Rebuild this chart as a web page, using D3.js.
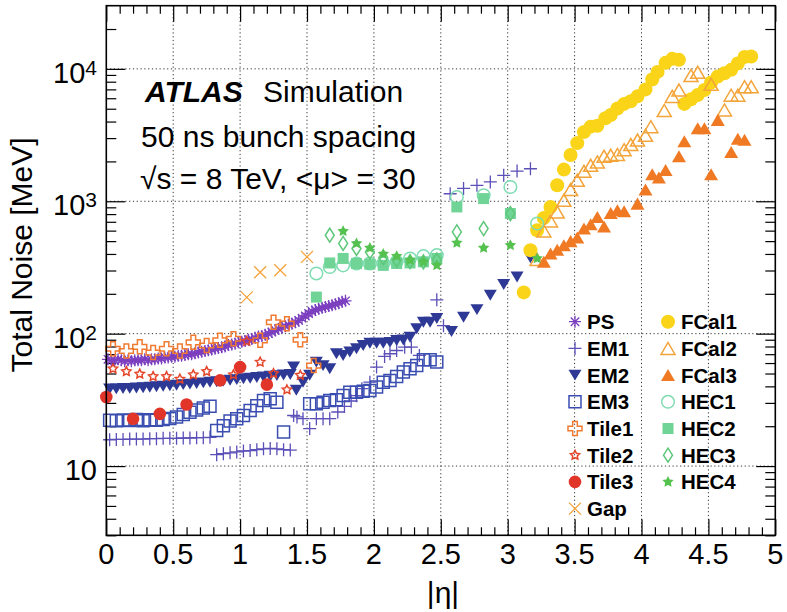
<!DOCTYPE html>
<html><head><meta charset="utf-8">
<script src="https://cdn.jsdelivr.net/npm/d3@7"></script>
<style>
body{margin:0;background:#fff}
svg{display:block}
text{font-family:"Liberation Sans",Arial,Helvetica,sans-serif;fill:#000}
</style>
</head><body>
<svg id="chart" width="787" height="612"></svg>
<script>
// Total noise per calorimeter layer vs |eta|, [eta, noise in MeV]
const PS = [[0.0125,64],[0.0375,63],[0.0625,63],[0.0875,64],[0.1125,63],[0.1375,62],[0.1625,63],[0.1875,62],[0.2125,63],[0.2375,63],
  [0.2625,63],[0.2875,64],[0.3125,63],[0.3375,64],[0.3625,64],[0.3875,65],[0.4125,65],[0.4375,66],[0.4625,66],[0.4875,67],
  [0.5125,67],[0.5375,68],[0.5625,68],[0.5875,69],[0.6125,70],[0.6375,70],[0.6625,71],[0.6875,72],[0.7125,73],[0.7375,74],
  [0.7625,75],[0.7875,76],[0.8125,77],[0.8375,78],[0.8625,79],[0.8875,80],[0.9125,82],[0.9375,83],[0.9625,84],[0.9875,86],
  [1.0125,87],[1.0375,88],[1.0625,90],[1.0875,91],[1.1125,93],[1.1375,95],[1.1625,96],[1.1875,98],[1.2125,100],[1.2375,103],
  [1.2625,106],[1.2875,109],[1.3125,111],[1.3375,114],[1.3625,117],[1.3875,119],[1.4125,122],[1.4375,126],[1.4625,131],[1.4875,136],
  [1.5125,142],[1.5375,147],[1.5625,151],[1.5875,154],[1.6125,157],[1.6375,159],[1.6625,162],[1.6875,164],[1.7125,167],[1.7375,170],[1.7625,174],[1.7875,177]];

const EM1 = [[0.025,15.8],[0.075,15.9],[0.125,15.9],[0.175,16.0],[0.225,16.0],[0.275,16.0],[0.325,16.1],[0.375,16.1],[0.425,16.2],[0.475,16.2],
  [0.525,16.2],[0.575,16.3],[0.625,16.3],[0.675,16.4],[0.725,16.4],[0.775,16.5],
  [0.825,12.2],[0.875,12.4],[0.925,12.6],[0.975,12.8],[1.025,13.0],[1.075,13.1],[1.125,13.3],[1.175,13.5],[1.225,13.6],[1.275,13.5],[1.325,13.3],[1.375,13.2],
  [1.40,24.1],[1.425,23.5],[1.47,22.8],[1.52,19.2],[1.57,22.8],[1.62,22.8],[1.67,22.8],[1.73,25.6],[1.78,28.2],[1.83,31],[1.87,34],[1.91,38.4],
  [1.97,43.0],[2.02,55.9],[2.08,67.3],[2.12,70.5],[2.17,74.6],[2.23,79.1],[2.28,79.1],[2.34,68.5],[2.47,180],[2.52,115],
  [2.57,1140],[2.67,1250],[2.77,1320],[2.87,1400],[2.97,1570],[3.07,1690],[3.17,1760]];

const EM2 = [[0.025,38.2],[0.075,38.3],[0.125,38.5],[0.175,38.6],[0.225,38.9],[0.275,39.1],[0.325,39.4],[0.375,39.7],[0.425,40.1],[0.475,40.4],
  [0.525,40.8],[0.575,41.2],[0.625,41.6],[0.675,42.0],[0.725,42.5],[0.775,43.0],[0.825,43.4],[0.875,43.9],[0.925,44.5],[0.975,45.0],
  [1.025,45.6],[1.075,46.1],[1.125,46.6],[1.175,47.2],[1.225,47.7],[1.275,48.2],[1.325,48.7],[1.375,49.2],
  [1.40,56],[1.42,37.4],[1.47,43],[1.52,48.5],[1.57,61],[1.62,57.4],[1.67,54.3],[1.72,70.5],[1.77,68.5],[1.82,72.6],[1.87,76.9],[1.92,81.4],
  [1.97,84.7],[2.02,84.7],[2.07,84.7],[2.12,86],[2.17,88.7],[2.22,89.7],[2.27,94],[2.32,108.9],[2.37,122],[2.42,122],[2.47,130],
  [2.58,104],[2.67,133],[2.77,152],[2.87,195],[2.97,235],[3.07,268],[3.17,374]];

const EM3 = [[0.025,22.2],[0.075,22.0],[0.125,22.3],[0.175,22.1],[0.225,22.5],[0.275,22.0],[0.325,22.4],[0.375,22.2],[0.425,22.5],[0.475,22.9],
  [0.525,23.5],[0.575,24.5],[0.625,25.5],[0.675,26.5],[0.725,27.5],[0.775,28.3],
  [0.825,18.6],[0.875,20.2],[0.925,21.9],[0.975,22.8],[1.025,24.1],[1.075,26.3],[1.125,28.6],[1.175,31.3],[1.225,32.2],[1.275,30.4],[1.325,18.1],
  [1.52,29.6],[1.57,29.6],[1.62,30.4],[1.67,31.3],[1.72,31.7],[1.77,34.1],[1.82,36.1],[1.87,36.1],[1.92,36.8],[1.97,37.2],
  [2.02,39.5],[2.07,43],[2.12,44.3],[2.17,47.5],[2.22,51.3],[2.27,54.4],[2.32,57.5],[2.37,63.5],[2.42,63.5],[2.47,61]];

const TILE1 = [[0.05,76.9],[0.15,74],[0.25,79.5],[0.35,72],[0.45,76.9],[0.55,74],[0.65,86],[0.75,81.4],[0.85,89],[0.95,91.5],
  [1.15,89],[1.25,122],[1.35,119],[1.45,90],[1.55,57.4]];
const TILE2 = [[0.05,54.3],[0.15,51.8],[0.25,49.6],[0.35,47.5],[0.45,47.5],[0.55,45.4],[0.65,49],[0.75,51.9],[0.95,49],
  [1.05,87.7],[1.15,61],[1.25,50],[1.35,37.7],[1.45,48.5]];
const TILE3 = [[0.0,33.2],[0.2,22.8],[0.4,24.8],[0.6,29.2],[0.85,44.4],[1.0,55.9],[1.2,41.2]];
const GAP = [[1.05,188],[1.15,291],[1.3,301],[1.5,380]];

const FCAL1 = [[3.12,205],[3.17,427],[3.22,604],[3.27,748],[3.32,906],[3.37,1320],[3.42,1735],[3.47,2235],[3.52,2750],[3.57,3330],
  [3.62,3660],[3.67,3720],[3.73,4240],[3.77,4480],[3.82,5020],[3.87,5440],[3.92,5700],[3.97,6200],[4.03,7000],[4.08,8320],
  [4.12,9490],[4.18,11100],[4.23,11900],[4.28,11700],[4.32,5440],[4.37,5900],[4.42,6350],[4.47,6920],[4.52,7900],[4.57,8750],
  [4.62,9270],[4.67,9830],[4.72,11000],[4.77,12300],[4.82,12400]];
const FCAL2 = [[3.22,363],[3.27,597],[3.32,710],[3.37,830],[3.42,1017],[3.47,1225],[3.52,1440],[3.57,1685],[3.62,1870],[3.67,1980],
  [3.72,2185],[3.77,2225],[3.82,2260],[3.87,2450],[3.92,2680],[3.97,2900],[4.03,3150],[4.07,3660],[4.17,4850],[4.23,6200],
  [4.28,6920],[4.37,8910],[4.42,9420],[4.52,7650],[4.62,4900],[4.67,6330],[4.72,6330],[4.77,7330],[4.82,7330]];
const FCAL3 = [[3.27,349],[3.32,403],[3.37,431],[3.42,465],[3.47,500],[3.52,532],[3.57,622],[3.62,670],[3.67,761],[3.72,646],
  [3.77,816],[3.82,855],[3.87,840],[3.97,960],[4.03,1225],[4.08,1600],[4.13,1510],[4.18,1720],[4.28,2185],[4.32,2840],
  [4.42,3560],[4.47,3560],[4.52,1600],[4.57,4120],[4.67,2360],[4.72,2970],[4.77,2910]];

const HEC1 = [[1.57,285],[1.67,319],[1.77,328],[1.87,339],[1.97,339],[2.07,339],[2.17,349],[2.27,370],[2.37,385],[2.47,392],
  [2.62,1077],[2.82,1110],[3.02,1282],[3.22,679]];
const HEC2 = [[1.57,189],[1.67,342],[1.77,370],[1.87,339],[1.97,335],[2.07,328],[2.17,339],[2.27,342],[2.37,349],[2.47,370],
  [2.62,906],[2.82,1048],[3.02,808]];
const HEC3 = [[1.67,554],[1.77,480],[1.87,440],[1.97,414],[2.07,375],[2.17,360],[2.27,350],[2.37,348],[2.47,360],
  [2.62,587],[2.82,622],[3.02,808]];
const HEC4 = [[1.77,594],[1.87,480],[1.97,444],[2.07,400],[2.17,385],[2.27,359],[2.37,349],[2.47,328],
  [2.62,485],[2.82,444],[3.02,465],[3.22,370]];

const X_TICK_LABELS = ["0","0.5","1","1.5","2","2.5","3","3.5","4","4.5","5"];
const Y_TICK_LABELS = [{v:10,base:"10",exp:""},{v:100,base:"10",exp:"2"},{v:1000,base:"10",exp:"3"},{v:10000,base:"10",exp:"4"}];

// Marker style for every layer, in drawing / legend order
const SERIES = [
  {name:"PS",    data:PS,    color:"#7b3fbf", shape:"asterisk", size:6,   fill:false},
  {name:"EM1",   data:EM1,   color:"#5b4fb8", shape:"plus",     size:6.5, fill:false},
  {name:"EM2",   data:EM2,   color:"#2e3996", shape:"tridown",  size:13,  fill:true},
  {name:"EM3",   data:EM3,   color:"#3a4db0", shape:"square",   size:12,  fill:false},
  {name:"Tile1", data:TILE1, color:"#f07a30", shape:"cross",    size:14,  fill:false},
  {name:"Tile2", data:TILE2, color:"#e5462a", shape:"star",     size:4.8, fill:false},
  {name:"Tile3", data:TILE3, color:"#e2352a", shape:"circle",   size:6.3, fill:true},
  {name:"Gap",   data:GAP,   color:"#f5a33a", shape:"x",        size:6,   fill:false},
  {name:"FCal1", data:FCAL1, color:"#fad418", shape:"circle",   size:7,   fill:true},
  {name:"FCal2", data:FCAL2, color:"#f3a43a", shape:"triup",    size:14,  fill:false},
  {name:"FCal3", data:FCAL3, color:"#f07a24", shape:"triup",    size:14,  fill:true},
  {name:"HEC1",  data:HEC1,  color:"#7fdcb2", shape:"circle",   size:6.3, fill:false},
  {name:"HEC2",  data:HEC2,  color:"#6fd495", shape:"square",   size:11,  fill:true},
  {name:"HEC3",  data:HEC3,  color:"#5ec77a", shape:"diamond",  size:14,  fill:false},
  {name:"HEC4",  data:HEC4,  color:"#55c250", shape:"star",     size:6,   fill:true}
];

const svg = d3.select("#chart");
const frame = {left:106.3, right:775.3, top:5.7, bottom:535.3};
const x = d3.scaleLinear().domain([0,5]).range([frame.left, frame.right]);
const y = d3.scaleLog().domain([3,30000]).range([frame.bottom, frame.top]);

// marker outlines centred on the origin
function markerPath(shape, s){
  const f = v => v.toFixed(2);
  switch(shape){
    case "asterisk": { const a = s*0.707;
      return `M0,${f(-s)}V${f(s)}M${f(-s)},0H${f(s)}M${f(-a)},${f(-a)}L${f(a)},${f(a)}M${f(-a)},${f(a)}L${f(a)},${f(-a)}`; }
    case "plus": return `M0,${f(-s)}V${f(s)}M${f(-s)},0H${f(s)}`;
    case "x": return `M${f(-s)},${f(-s)}L${f(s)},${f(s)}M${f(-s)},${f(s)}L${f(s)},${f(-s)}`;
    case "tridown": { const w=s/2, h=s*0.42;
      return `M${f(-w)},${f(-h)}L${f(w)},${f(-h)}L0,${f(h)}Z`; }
    case "triup": { const w=s/2, h=s*0.43;
      return `M${f(-w)},${f(h)}L${f(w)},${f(h)}L0,${f(-h)}Z`; }
    case "square": { const h=s/2; return `M${f(-h)},${f(-h)}H${f(h)}V${f(h)}H${f(-h)}Z`; }
    case "diamond": { const w=s*0.32, h=s/2; return `M0,${f(-h)}L${f(w)},0L0,${f(h)}L${f(-w)},0Z`; }
    case "cross": { const R=s/2, t=R/3;
      return `M${f(-t)},${f(-R)}H${f(t)}V${f(-t)}H${f(R)}V${f(t)}H${f(t)}V${f(R)}H${f(-t)}V${f(t)}H${f(-R)}V${f(-t)}H${f(-t)}Z`; }
    case "star": { const pts=[]; for(let i=0;i<10;i++){ const r = i%2===0 ? s : s*0.5;
        const ang = -Math.PI/2 + i*Math.PI/5; pts.push([r*Math.cos(ang), r*Math.sin(ang)]); }
      return "M"+pts.map(p=>f(p[0])+","+f(p[1])).join("L")+"Z"; }
    case "circle": return `M${f(-s)},0A${f(s)},${f(s)} 0 1,0 ${f(s)},0A${f(s)},${f(s)} 0 1,0 ${f(-s)},0Z`;
  }
}
const isLine = sh => sh==="asterisk" || sh==="plus" || sh==="x";
function styleMarker(sel, sr){
  sel.attr("d", markerPath(sr.shape, sr.size))
    .attr("fill", sr.fill ? sr.color : "none")
    .attr("stroke", sr.fill ? "none" : sr.color)
    .attr("stroke-width", isLine(sr.shape) ? 1.3 : 1.5)
    .attr("stroke-linejoin","miter");
}

// dotted grid
const grid = svg.append("g").attr("stroke","#333").attr("stroke-width",1).attr("stroke-dasharray","1.2,2.6");
[0.5,1,1.5,2,2.5,3,3.5,4,4.5].forEach(v=>{
  grid.append("line").attr("x1",x(v)).attr("x2",x(v)).attr("y1",frame.top).attr("y2",frame.bottom);
});
[10,100,1000,10000].forEach(v=>{
  grid.append("line").attr("x1",frame.left).attr("x2",frame.right).attr("y1",y(v)).attr("y2",y(v));
});

// axes: major/minor ticks pointing into the frame on all four sides
const xMajor = d3.range(0,5.001,0.5);
const xMinor = d3.range(0,5.001,0.1).filter(v=>Math.abs(v*2-Math.round(v*2))>1e-6);
const yMajor = [10,100,1000,10000];
const yMinor = [];
[1,10,100,1000,10000].forEach(d=>{ for(let k=2;k<=9;k++){ const v=k*d; if(v>=3 && v<30000) yMinor.push(v);} });

function tickAxis(axisFn, scale, values, len, tx, ty){
  const g = svg.append("g").attr("transform",`translate(${tx},${ty})`)
    .call(axisFn(scale).tickValues(values).tickSize(-len).tickFormat(()=>""));
  g.select(".domain").remove();
  g.selectAll("line").attr("stroke","#000").attr("stroke-width",1.2);
  return g;
}
tickAxis(d3.axisBottom, x, xMajor, 16, 0, frame.bottom);
tickAxis(d3.axisBottom, x, xMinor, 8, 0, frame.bottom);
tickAxis(d3.axisTop, x, xMajor, 16, 0, frame.top);
tickAxis(d3.axisTop, x, xMinor, 8, 0, frame.top);
tickAxis(d3.axisLeft, y, yMajor, 19, frame.left, 0);
tickAxis(d3.axisLeft, y, yMinor, 10, frame.left, 0);
tickAxis(d3.axisRight, y, yMajor, 19, frame.right, 0);
tickAxis(d3.axisRight, y, yMinor, 10, frame.right, 0);

// x tick labels
svg.append("g").selectAll("text").data(xMajor).join("text")
  .attr("x", d=>x(d)).attr("y", 564).attr("text-anchor","middle")
  .attr("font-size",29).text((d,i)=>X_TICK_LABELS[i]);

// y tick labels with powers of ten
const yl = svg.append("g").selectAll("text").data(Y_TICK_LABELS).join("text")
  .attr("x", 97).attr("y", d=>y(d.v)+14).attr("text-anchor","end").attr("font-size",29);
yl.append("tspan").text(d=>d.base);
yl.filter(d=>d.exp).append("tspan").attr("font-size",21).attr("dy",-8).text(d=>d.exp);

// axis titles
svg.append("text").attr("transform","translate(32,255) rotate(-90)").attr("text-anchor","middle")
  .attr("font-size",30).text("Total Noise [MeV]");
svg.append("text").attr("x",443).attr("y",603).attr("text-anchor","middle").attr("font-size",30).text("|η|");

// data markers
SERIES.forEach(sr=>{
  svg.append("g").selectAll("path").data(sr.data).join("path")
    .attr("transform", d=>`translate(${x(d[0]).toFixed(2)},${y(d[1]).toFixed(2)})`)
    .call(styleMarker, sr);
});

// frame
svg.append("rect").attr("x",frame.left).attr("y",frame.top)
  .attr("width",frame.right-frame.left).attr("height",frame.bottom-frame.top)
  .attr("fill","none").attr("stroke","#000").attr("stroke-width",1.6);

// labels
const lab = svg.append("g").attr("font-size",30);
const atl = lab.append("text").attr("x",145).attr("y",101.7);
atl.append("tspan").attr("font-weight","bold").attr("font-style","italic").text("ATLAS");
lab.append("text").attr("x",263).attr("y",101.7).text("Simulation");
lab.append("text").attr("x",141).attr("y",147).text("50 ns bunch spacing");
lab.append("text").attr("x",140).attr("y",188.5).text("√s = 8 TeV, <μ> = 30");

// legend, two columns of eight
const leg = svg.append("g");
SERIES.forEach((sr,i)=>{
  const col = i<8 ? 0 : 1, row = i<8 ? i : i-8;
  const cy = 321.7 + row*26.7;
  const mx = col===0 ? 575 : 668, tx = col===0 ? 587 : 681;
  leg.append("path").attr("transform",`translate(${mx},${cy})`).call(styleMarker, sr);
  leg.append("text").attr("x",tx).attr("y",cy+7.5).attr("font-size",20.5).attr("font-weight","bold").text(sr.name);
});
</script>
</body></html>
